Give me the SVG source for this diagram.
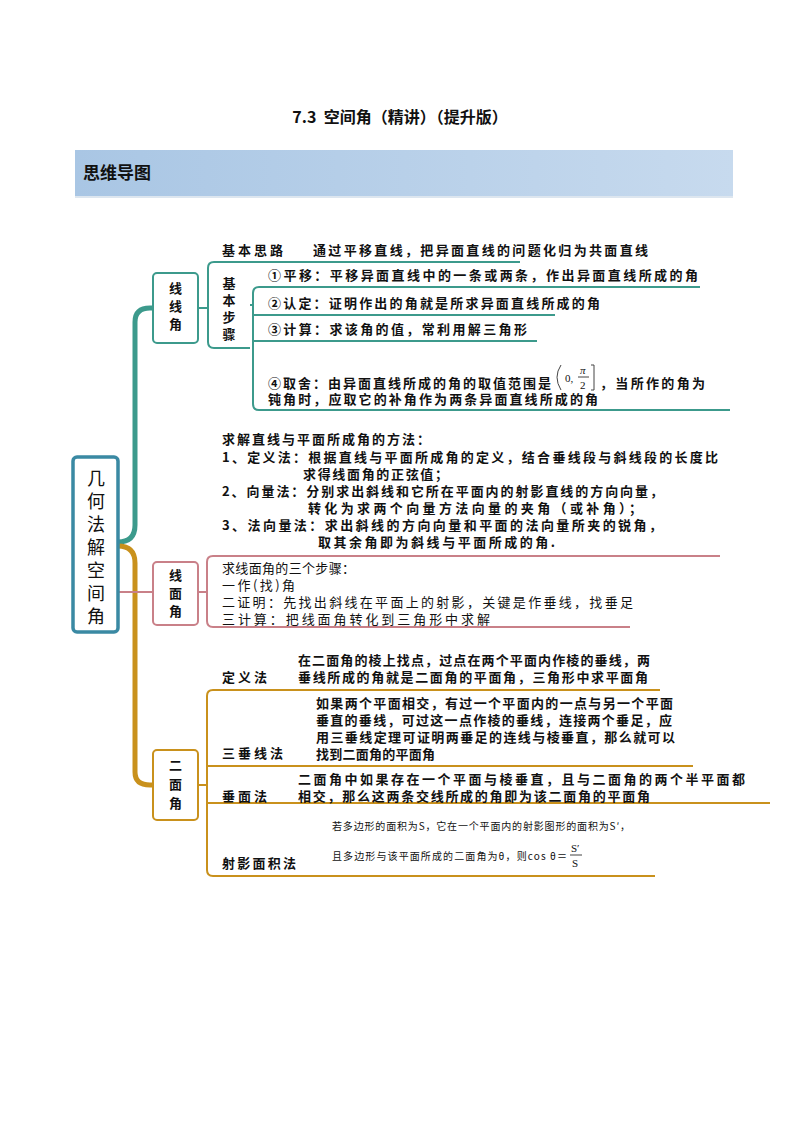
<svg xmlns="http://www.w3.org/2000/svg" width="800" height="1132" viewBox="0 0 800 1132">
<defs>
<linearGradient id="hb" x1="0" x2="1" y1="0" y2="0"><stop offset="0" stop-color="#a9c6e4"/><stop offset="1" stop-color="#c7daee"/></linearGradient>
</defs>
<style>
text{font-family:"Noto Sans CJK SC","Liberation Sans",sans-serif;fill:#111}
.t{font-size:13px;font-weight:bold}
.s{font-size:10px}
.teal{stroke:#3c9a8c;fill:none}
.red{stroke:#c98088;fill:none}
.gold{stroke:#c9911c;fill:none}
.m{font-family:"Liberation Serif",serif;font-size:11px}
</style>
<rect width="800" height="1132" fill="#fff"/>
<text x="400" y="123" text-anchor="middle" style="font-size:16px;font-weight:bold" xml:space="preserve">7.3  空间角（精讲）（提升版）</text>
<rect x="75" y="150" width="658" height="47" fill="url(#hb)"/>
<rect x="75" y="196" width="658" height="2" fill="#dde6ef"/>
<text x="83" y="179" style="font-size:17px;font-weight:bold">思维导图</text>

<g id="connectors">
<path class="teal" stroke-width="5" d="M118 542 Q135 542 135 525 L135 322 Q135 308 150 308 L153 308"/>
<path class="gold" stroke-width="5" d="M118 546 Q135 546 135 563 L135 772 Q135 785 150 785 L153 785"/>
<path class="red" stroke-width="2" d="M118 592 L153 592"/>
<path class="teal" stroke-width="2" d="M198 308 L208 308"/>
<path class="teal" stroke-width="2" d="M520 262 L214 262 Q208 262 208 268 L208 342 Q208 348 214 348 L250 348"/>
<path class="teal" stroke-width="2" d="M250 305 L253 305"/>
<path class="teal" stroke-width="2" d="M700 287 L259 287 Q253 287 253 293 L253 404 Q253 410 259 410 L730 410"/>
<path class="teal" stroke-width="2" d="M253 315 L555 315 M253 341 L537 341"/>
<path class="red" stroke-width="2" d="M198 592 L207 592 M720 556 L213 556 Q207 556 207 562 L207 621 Q207 627 213 627 L630 627"/>
<path class="gold" stroke-width="2" d="M198 785 L207 785 M660 690 L213 690 Q207 690 207 696 L207 870 Q207 876 213 876 L655 876 M207 766 L693 766 M207 803 L770 803"/>
</g>

<g id="root">
<rect x="73" y="457" width="45" height="175" rx="4" fill="#fff" stroke="#3a89a3" stroke-width="3.5"/>
<g style="font-size:18px" text-anchor="middle">
<text x="96" y="485">几</text><text x="96" y="508">何</text><text x="96" y="531">法</text><text x="96" y="554">解</text><text x="96" y="577">空</text><text x="96" y="600">间</text><text x="96" y="623">角</text>
</g>
</g>

<g id="n-xianxian">
<rect x="153" y="273" width="45" height="70" rx="4" fill="#fff" stroke="#3c9a8c" stroke-width="2"/>
<g class="t" text-anchor="middle"><text x="175.5" y="293">线</text><text x="175.5" y="311">线</text><text x="175.5" y="329">角</text></g>
</g>
<g id="n-jbsl"><text class="t" x="222" y="255" textLength="61">基本思路</text><text class="t" x="313" y="255" textLength="335">通过平移直线，把异面直线的问题化归为共面直线</text></g>
<g id="n-jbbz" class="t" text-anchor="middle"><text x="229" y="288">基</text><text x="229" y="305">本</text><text x="229" y="322">步</text><text x="229" y="339">骤</text></g>
<g id="n-s1"><text class="t" x="268" y="280" textLength="430">①平移：平移异面直线中的一条或两条，作出异面直线所成的角</text></g>
<g id="n-s2"><text class="t" x="268" y="308" textLength="332">②认定：证明作出的角就是所求异面直线所成的角</text></g>
<g id="n-s3"><text class="t" x="268" y="334" textLength="259">③计算：求该角的值，常利用解三角形</text></g>
<g id="n-s4">
<text class="t" x="268" y="388" textLength="283">④取舍：由异面直线所成的角的取值范围是</text>
<path d="M561 365 Q553 377 561 390" stroke="#444" fill="none"/>
<text class="m" x="565" y="382">0,</text>
<text class="m" x="580" y="374" font-style="italic">π</text>
<line x1="578" y1="377" x2="589" y2="377" stroke="#111" stroke-width="0.8"/>
<text class="m" x="580" y="389">2</text>
<path d="M591 365 L594 365 L594 390 L591 390" stroke="#444" fill="none"/>
<text class="t" x="600" y="388" textLength="105">，当所作的角为</text>
<text class="t" x="268" y="404" textLength="330">钝角时，应取它的补角作为两条异面直线所成的角</text>
</g>

<g id="n-xianmian-methods" class="t">
<text x="222" y="444" textLength="208">求解直线与平面所成角的方法：</text>
<text x="222" y="462" textLength="496">1、定义法：根据直线与平面所成角的定义，结合垂线段与斜线段的长度比</text>
<text x="303" y="479" textLength="145">求得线面角的正弦值；</text>
<text x="222" y="496" textLength="441">2、向量法：分别求出斜线和它所在平面内的射影直线的方向向量，</text>
<text x="308" y="513" textLength="334">转化为求两个向量方法向量的夹角（或补角）；</text>
<text x="222" y="530" textLength="440">3、法向量法：求出斜线的方向向量和平面的法向量所夹的锐角，</text>
<text x="318" y="547" textLength="237">取其余角即为斜线与平面所成的角.</text>
</g>
<g id="n-xianmian">
<rect x="153" y="562" width="45" height="63" rx="4" fill="#fff" stroke="#c98088" stroke-width="2"/>
<g class="t" text-anchor="middle"><text x="175.5" y="580">线</text><text x="175.5" y="598">面</text><text x="175.5" y="616">角</text></g>
</g>
<g id="n-xianmian-steps" style="font-size:13px">
<text x="222" y="573" textLength="133">求线面角的三个步骤：</text>
<text x="222" y="590" textLength="73">一作(找)角</text>
<text x="222" y="607" textLength="411">二证明：先找出斜线在平面上的射影，关键是作垂线，找垂足</text>
<text x="222" y="624" textLength="268">三计算：把线面角转化到三角形中求解</text>
</g>

<g id="n-ermian">
<rect x="153" y="750" width="45" height="70" rx="4" fill="#fff" stroke="#c9911c" stroke-width="2"/>
<g class="t" text-anchor="middle"><text x="175.5" y="770">二</text><text x="175.5" y="789">面</text><text x="175.5" y="808">角</text></g>
</g>
<g id="n-dingyi" class="t">
<text x="222" y="682" textLength="45">定义法</text>
<text x="298" y="665" textLength="352">在二面角的棱上找点，过点在两个平面内作棱的垂线，两</text>
<text x="298" y="682" textLength="350">垂线所成的角就是二面角的平面角，三角形中求平面角</text>
</g>
<g id="n-sanchui" class="t">
<text x="222" y="758" textLength="61">三垂线法</text>
<text x="316" y="708" textLength="357">如果两个平面相交，有过一个平面内的一点与另一个平面</text>
<text x="316" y="725" textLength="356">垂直的垂线，可过这一点作棱的垂线，连接两个垂足，应</text>
<text x="316" y="742" textLength="359">用三垂线定理可证明两垂足的连线与棱垂直，那么就可以</text>
<text x="316" y="759" textLength="119">找到二面角的平面角</text>
</g>
<g id="n-chuimian" class="t">
<text x="222" y="801" textLength="45">垂面法</text>
<text x="298" y="784" textLength="447">二面角中如果存在一个平面与棱垂直，且与二面角的两个半平面都</text>
<text x="298" y="801" textLength="352">相交，那么这两条交线所成的角即为该二面角的平面角</text>
</g>
<g id="n-sheying">
<text class="t" x="222" y="868" textLength="74">射影面积法</text>
<text class="s" x="332" y="830" textLength="298">若多边形的面积为S，它在一个平面内的射影图形的面积为S′，</text>
<text class="s" x="332" y="860" textLength="235">且多边形与该平面所成的二面角为θ，则cos θ＝</text>
<text class="m" x="571" y="852">S′</text>
<line x1="570" y1="855" x2="582" y2="855" stroke="#111" stroke-width="0.8"/>
<text class="m" x="572" y="867">S</text>
</g>
</svg>
